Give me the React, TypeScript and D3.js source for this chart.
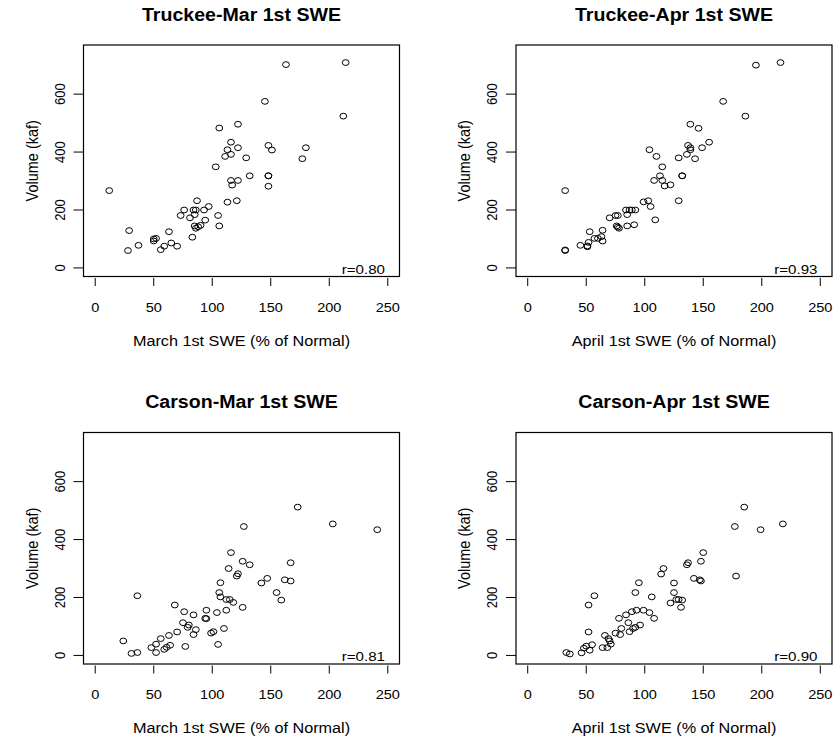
import React from "react";
import * as d3 from "d3";

// ---------- data ----------
const truckeeMarX = [163,214,145,212,106,122,116,113,122,116,111,129,148,151,180,177,103,12,116,117,122,132,148,148,148,113,121,87,76,84,86,93,97,73,81,85,94,105,106,85,88,90,86,83,29,63,50,52,50,37,28,59,65,70,56];
const truckeeMarY = [702,709,575,524,483,496,434,408,415,392,385,380,423,407,415,377,349,267,302,286,302,318,318,318,282,227,232,232,200,200,200,200,212,181,173,184,165,181,145,145,142,147,137,106,129,125,100,102,93,78,60,75,86,75,63];

const truckeeAprX = [195,216,167,186,139,146,155,149,137,139,139,136,143,129,104,110,115,113,108,115,117,122,132,132,129,32,99,103,105,109,84,87,89,92,85,77,75,70,76,78,85,91,53,64,57,60,63,64,45,51,52,32,32,77,51];
const truckeeAprY = [700,709,575,524,496,482,434,415,423,415,408,392,377,380,408,385,349,318,302,302,283,287,318,318,232,267,228,232,212,166,200,200,200,200,184,181,181,173,145,137,145,149,125,130,102,102,108,93,78,73,88,62,60,141,76];

const carsonMarX = [173,127,203,241,116,126,132,167,114,122,121,107,142,147,162,167,155,159,106,107,112,115,118,126,36,68,76,84,95,94,104,112,75,80,79,86,84,70,63,56,52,48,52,59,61,64,77,24,31,36,99,101,110,105,95];
const carsonMarY = [512,445,454,434,355,325,313,320,300,282,274,251,250,266,261,257,217,191,217,202,193,193,183,166,206,174,151,140,156,128,148,156,113,105,97,89,72,81,69,58,39,27,10,21,28,35,31,50,7,10,77,82,93,38,127];

const carsonAprX = [185,177,199,218,178,150,148,137,136,116,114,142,147,148,125,95,92,57,52,106,125,127,129,132,122,131,84,89,93,99,104,108,78,86,80,75,79,87,90,92,96,66,69,71,68,64,52,55,53,50,48,46,33,36,70];
const carsonAprY = [512,445,434,454,274,355,325,320,313,300,281,266,261,257,250,251,217,206,174,202,217,193,193,191,181,166,140,151,156,156,148,128,128,113,93,77,72,82,93,97,105,69,58,39,27,27,81,37,18,32,25,9,10,5,50];

const titles = ["Truckee-Mar 1st SWE", "Truckee-Apr 1st SWE", "Carson-Mar 1st SWE", "Carson-Apr 1st SWE"];
const xLabels = ["March 1st SWE (% of Normal)", "April 1st SWE (% of Normal)", "March 1st SWE (% of Normal)", "April 1st SWE (% of Normal)"];
const rLabels = ["r=0.80", "r=0.93", "r=0.81", "r=0.90"];
const xTicks = [0, 50, 100, 150, 200, 250];
const yTicks = [0, 200, 400, 600];
const yLabel = "Volume (kaf)";

// ---------- layout ----------
const W = 837;
const H = 740;
const FONT = "'Liberation Sans', Arial, Helvetica, sans-serif";
const SX = 1.12; // horizontal stretch seen in the reference

const panels = [
  { xs: truckeeMarX, ys: truckeeMarY, left: 83.5, top: 45 },
  { xs: truckeeAprX, ys: truckeeAprY, left: 516, top: 45 },
  { xs: carsonMarX, ys: carsonMarY, left: 83.5, top: 432.5 },
  { xs: carsonAprX, ys: carsonAprY, left: 516, top: 432.5 },
];
const PW = 316;
const PH = 231.5;

function SText(props: {
  x: number; y: number; size: number; anchor?: string; weight?: string; rotate?: boolean; children: React.ReactNode;
}) {
  const { x, y, size, anchor = "middle", weight = "normal", rotate = false } = props;
  const tr = `translate(${x},${y}) scale(${SX},1)` + (rotate ? " rotate(-90)" : "");
  return (
    <text transform={tr} textAnchor={anchor} fontSize={size} fontWeight={weight} fontFamily={FONT} fill="#000">
      {props.children}
    </text>
  );
}

function Panel({ idx }: { idx: number }) {
  const p = panels[idx];
  const right = p.left + PW;
  const bottom = p.top + PH;
  const x = d3.scaleLinear().domain([-10, 260]).range([p.left, right]);
  const y = d3.scaleLinear().domain([-29.6, 769.6]).range([bottom, p.top]);
  const cx = (p.left + right) / 2;
  const cy = (p.top + bottom) / 2;
  return (
    <g>
      <SText x={cx} y={p.top - 24.5} size={17.5} weight="bold">{titles[idx]}</SText>
      <rect x={p.left} y={p.top} width={PW} height={PH} fill="none" stroke="#000" strokeWidth={1.2} />
      {p.xs.map((v, i) => (
        <ellipse key={i} cx={x(v)} cy={y(p.ys[i])} rx={3.4} ry={2.9} fill="none" stroke="#000" strokeWidth={1} />
      ))}
      {xTicks.map((t) => (
        <g key={"x" + t}>
          <line x1={x(t)} x2={x(t)} y1={bottom + 1.5} y2={bottom + 9.5} stroke="#000" strokeWidth={1} />
          <SText x={x(t)} y={bottom + 35} size={13}>{String(t)}</SText>
        </g>
      ))}
      {yTicks.map((t) => (
        <g key={"y" + t}>
          <line x1={p.left - 10} x2={p.left} y1={y(t)} y2={y(t)} stroke="#000" strokeWidth={1} />
          <SText x={p.left - 19} y={y(t)} size={13} rotate>{String(t)}</SText>
        </g>
      ))}
      <SText x={cx} y={bottom + 69} size={14.5}>{xLabels[idx]}</SText>
      <SText x={p.left - 46} y={cy} size={14.5} rotate>{yLabel}</SText>
      <SText x={right - 14.5} y={bottom - 3} size={13.5} anchor="end">{rLabels[idx]}</SText>
    </g>
  );
}

export default function App() {
  return (
    <div style={{ position: "absolute", left: 0, top: 0 }}>
      <svg width={W} height={H} viewBox={`0 0 ${W} ${H}`} style={{ display: "block", background: "#fff" }}>
        <rect x={0} y={0} width={W} height={H} fill="#fff" />
        {panels.map((_, i) => (
          <Panel key={i} idx={i} />
        ))}
      </svg>
    </div>
  );
}
